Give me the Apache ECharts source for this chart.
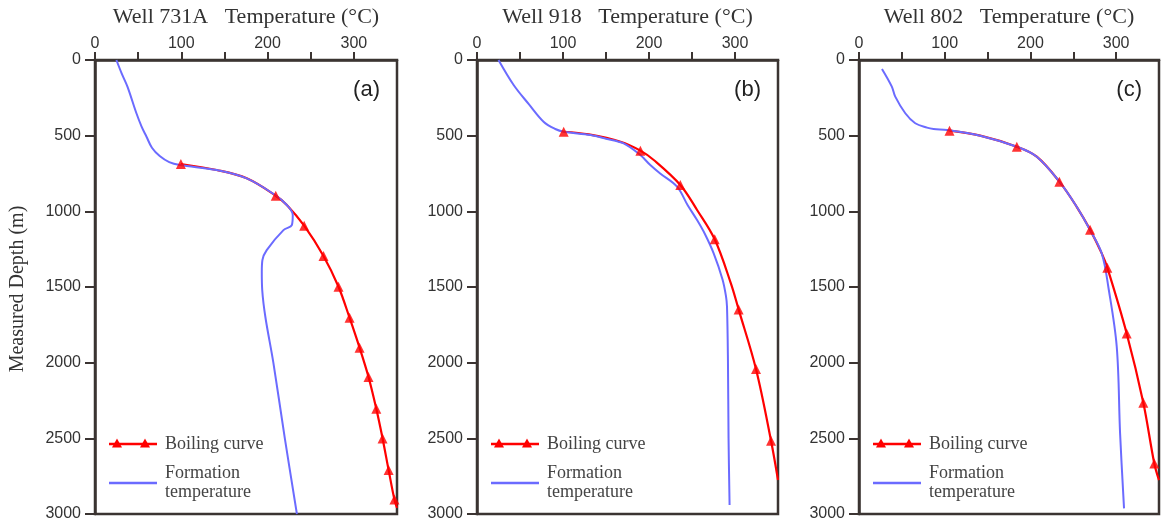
<!DOCTYPE html>
<html>
<head>
<meta charset="utf-8">
<script src="https://cdn.jsdelivr.net/npm/echarts@6/dist/echarts.min.js"></script>
<style>
  html, body { margin: 0; padding: 0; background: #fff; }
  #chart { width: 1161px; height: 524px; }
</style>
</head>
<body>
<div id="chart"></div>
<script>
// Well names and panel tags
const wells = ['Well 731A', 'Well 918', 'Well 802'];
const panelTags = ['(a)', '(b)', '(c)'];

// Axis ticks: temperature (°C) along the top, measured depth (m) down the side
const tempTicks = [0, 100, 200, 300];
const depthTicks = [0, 500, 1000, 1500, 2000, 2500, 3000];

// Formation temperature profiles, [temperature °C, depth m]
const formationA = [
  [24.8, 0], [31, 90], [37.6, 176], [48, 352], [54, 440], [59.7, 507],
  [66, 580], [75, 635], [86, 675], [98.4, 694], [141, 727], [175.8, 782],
  [208.7, 892], [222.3, 958], [229.2, 1024], [228.1, 1091], [218.4, 1124],
  [199, 1256], [194, 1322], [193.3, 1400], [193.8, 1520], [197.5, 1700],
  [206.7, 2000], [220, 2500], [234, 3000]
];
const formationB = [
  [25, 0], [42.6, 165], [60, 290], [77.4, 408], [91, 456], [100.8, 474],
  [132, 496], [150, 520], [170.5, 551], [189.9, 628], [201.5, 694],
  [213, 750], [232.6, 837], [245, 960], [255.9, 1058], [265, 1150],
  [275.2, 1278], [285.5, 1450], [289.5, 1560], [290.7, 1630], [291.8, 1983],
  [292.5, 2500], [293.7, 2940]
];
const formationC = [
  [26.8, 59], [38.3, 176], [42.3, 242], [54, 352], [65.6, 418], [79.3, 447],
  [87, 456], [102.6, 463], [141.4, 500], [184.1, 573], [207.4, 639],
  [233.8, 804], [254, 970], [269.6, 1124], [283.2, 1278], [290.9, 1500],
  [300.7, 1895], [304.6, 2467], [309.2, 2963]
];

// Boiling-point-with-depth curves, [temperature °C, depth m]
const boilingA = [
  [99.5, 687], [141, 727], [175.8, 782], [209.5, 897], [222.3, 958],
  [242.4, 1095], [264.8, 1295], [282.2, 1498], [295, 1703], [306.6, 1901],
  [317, 2095], [326, 2305], [333.3, 2501], [340.3, 2710], [347, 2904],
  [350, 2960]
];
const boilingB = [
  [100.8, 474], [130, 492], [166.9, 540], [190, 599], [205.5, 661],
  [236.4, 826], [255.9, 991], [276.4, 1185], [295.2, 1476], [304.2, 1648],
  [324.4, 2042], [341.9, 2516], [350, 2775]
];
const boilingC = [
  [105.6, 467], [141.4, 500], [184.1, 573], [207.4, 639], [233.8, 804],
  [254, 970], [269.6, 1121], [283.2, 1278], [289.7, 1372], [312.3, 1807],
  [331.7, 2265], [344.5, 2666], [350, 2776]
];

// Triangle markers placed along each boiling curve
const boilingMarksA = [
  [99.5, 687], [209.5, 897], [242.4, 1095], [264.8, 1295], [282.2, 1498],
  [295, 1703], [306.6, 1901], [317, 2095], [326, 2305], [333.3, 2501],
  [340.3, 2710], [347, 2904]
];
const boilingMarksB = [
  [100.8, 474], [190, 599], [236.4, 826], [276.4, 1185], [304.2, 1648],
  [324.4, 2042], [341.9, 2516]
];
const boilingMarksC = [
  [105.6, 467], [184.1, 573], [233.8, 804], [269.6, 1121], [289.7, 1372],
  [312.3, 1807], [331.7, 2265], [344.5, 2666]
];

const formation = [formationA, formationB, formationC];
const boiling = [boilingA, boilingB, boilingC];
const boilingMarks = [boilingMarksA, boilingMarksB, boilingMarksC];

const RED = '#ff0000';
const BLUE = '#6b6bff';
const AXIS = '#3b3432';
const SERIF = '"Liberation Serif", "DejaVu Serif", serif';
const SANS = '"Liberation Sans", Arial, sans-serif';

const panelLeft = [95, 477, 859];
const panelWidth = [302, 301, 300];
const panelTop = 60;
const panelHeight = 454;

const grid = [], xAxis = [], yAxis = [], series = [], graphic = [];

for (let i = 0; i < 3; i++) {
  grid.push({
    left: panelLeft[i], top: panelTop, width: panelWidth[i], height: panelHeight,
    show: true, borderColor: AXIS, borderWidth: 2.5, backgroundColor: 'transparent'
  });
  xAxis.push({
    type: 'value', gridIndex: i, position: 'top',
    min: tempTicks[0], max: 350, interval: 50,
    name: wells[i] + '   Temperature (°C)',
    nameLocation: 'middle', nameGap: 32,
    nameTextStyle: { fontFamily: SERIF, fontSize: 22, color: '#333' },
    axisLine: { show: true, lineStyle: { color: AXIS, width: 2.5 } },
    axisTick: { show: true, length: 8, lineStyle: { color: AXIS, width: 2 } },
    axisLabel: {
      margin: 8, fontFamily: SANS, fontSize: 16, color: '#333',
      showMaxLabel: false,
      formatter: v => tempTicks.includes(v) ? String(v) : ''
    },
    splitLine: { show: false }
  });
  yAxis.push({
    type: 'value', gridIndex: i, inverse: true,
    min: depthTicks[0], max: depthTicks[depthTicks.length - 1], interval: 500,
    axisLine: { show: true, lineStyle: { color: AXIS, width: 2.5 } },
    axisTick: { show: true, length: 10, lineStyle: { color: AXIS, width: 2 } },
    axisLabel: {
      margin: 14, fontFamily: SANS, fontSize: 16, color: '#333',
      formatter: v => depthTicks.includes(v) ? String(v) : ''
    },
    splitLine: { show: false }
  });

  series.push({
    type: 'line', name: 'Boiling curve', xAxisIndex: i, yAxisIndex: i,
    data: boiling[i], showSymbol: false, smooth: 0.35,
    clip: true, lineStyle: { color: RED, width: 2.2 }, z: 3
  });
  series.push({
    type: 'line', name: 'Formation temperature', xAxisIndex: i, yAxisIndex: i,
    data: formation[i], showSymbol: false, smooth: 0.35,
    lineStyle: { color: BLUE, width: 2 }, z: 4
  });
  series.push({
    type: 'scatter', name: 'Boiling curve', xAxisIndex: i, yAxisIndex: i,
    data: boilingMarks[i], symbol: 'triangle', symbolSize: 10,
    itemStyle: { color: RED }, z: 5
  });

  const gx = panelLeft[i];
  // panel tag in the top-right corner
  graphic.push({
    type: 'text', x: gx + panelWidth[i] - 17, y: 90,
    style: { text: panelTags[i], font: '22px ' + SANS, fill: '#222', align: 'right', verticalAlign: 'middle' }
  });
  // legend: boiling curve with two triangles
  graphic.push({
    type: 'line', shape: { x1: gx + 14, y1: 444, x2: gx + 62, y2: 444 },
    style: { stroke: RED, lineWidth: 2.5 }
  });
  [gx + 22, gx + 50].forEach(cx => graphic.push({
    type: 'polygon', shape: { points: [[cx, 438.5], [cx - 5, 447.5], [cx + 5, 447.5]] },
    style: { fill: RED }
  }));
  graphic.push({
    type: 'text', x: gx + 70, y: 444,
    style: { text: 'Boiling curve', font: '18px ' + SERIF, fill: '#444', verticalAlign: 'middle' }
  });
  // legend: formation temperature
  graphic.push({
    type: 'line', shape: { x1: gx + 14, y1: 483, x2: gx + 62, y2: 483 },
    style: { stroke: BLUE, lineWidth: 2.5 }
  });
  graphic.push({
    type: 'text', x: gx + 70, y: 473,
    style: { text: 'Formation', font: '18px ' + SERIF, fill: '#444', verticalAlign: 'middle' }
  });
  graphic.push({
    type: 'text', x: gx + 70, y: 492,
    style: { text: 'temperature', font: '18px ' + SERIF, fill: '#444', verticalAlign: 'middle' }
  });
}

// shared depth axis title
graphic.push({
  type: 'text', x: 18, y: 289, rotation: Math.PI / 2,
  style: { text: 'Measured Depth (m)', font: '20px ' + SERIF, fill: '#333', align: 'center', verticalAlign: 'middle' }
});

const chart = echarts.init(document.getElementById('chart'), null, { renderer: 'canvas' });
chart.setOption({
  animation: false,
  backgroundColor: '#fff',
  grid, xAxis, yAxis, series, graphic
});
</script>
</body>
</html>
